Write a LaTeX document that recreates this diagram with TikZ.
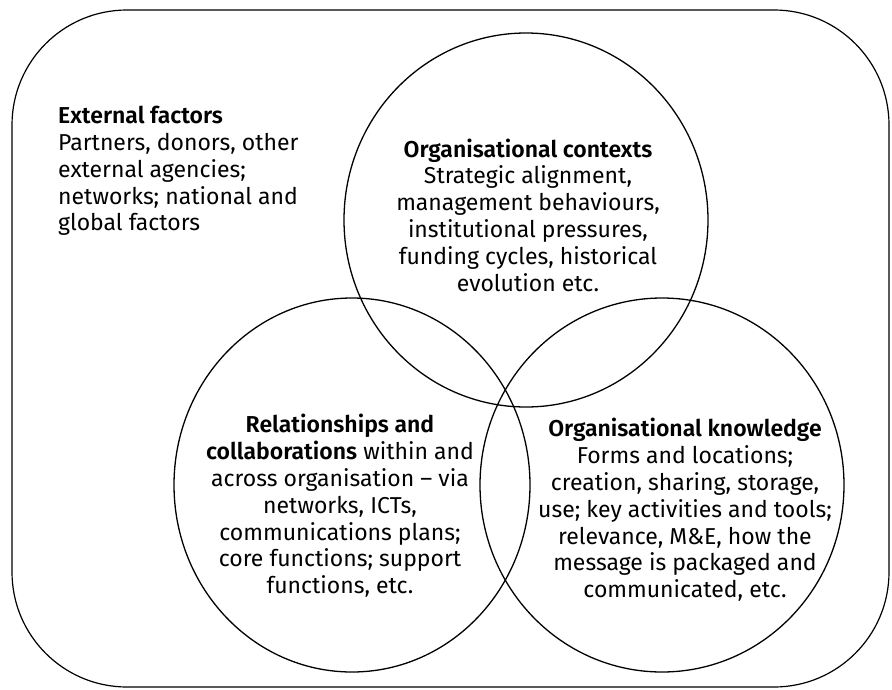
\documentclass[tikz,border=0pt]{standalone}
\usepackage{fontspec}
\setmainfont{Fira Sans}[BoldFont={Fira Sans SemiBold}]
\usetikzlibrary{positioning}

\begin{document}
\begin{tikzpicture}[x=1pt, y=-1pt, line join=round, line cap=round,
    font=\fontsize{23}{26.8}\selectfont,
    ring/.style={line width=1.3pt},
    blurb/.style={align=center, inner sep=0pt}]
    \useasboundingbox (0,0) rectangle (892,689);

    % outer frame
    \draw[line width=1.2pt, rounded corners=115pt] (12,10) rectangle (889,687);

    \coordinate (ctx) at (526,220);
    \coordinate (rel) at (352,485);
    \coordinate (know) at (662,485);

    \draw[ring] (ctx) ellipse [x radius=182pt, y radius=187pt];
    \draw[ring] (rel) ellipse [x radius=178pt, y radius=187pt];
    \draw[ring] (know) ellipse [x radius=182pt, y radius=187pt];

    \node[anchor=west, align=left, inner sep=0pt] (ext) at (58,171)
        {\textbf{External factors}\\Partners, donors, other\\external agencies;\\networks; national and\\global factors};

    \node[blurb] (ctxtext) at (528,215)
        {\textbf{Organisational contexts}\\Strategic alignment,\\management behaviours,\\institutional pressures,\\funding cycles, historical\\evolution etc.};

    \node[blurb] (reltext) at (340,506)
        {\textbf{Relationships and}\\\textbf{collaborations} within and\\across organisation -- via\\networks, ICTs,\\communications plans;\\core functions; support\\functions, etc.};

    \node[blurb] (knowtext) at (685,510)
        {\textbf{Organisational knowledge}\\Forms and locations;\\creation, sharing, storage,\\use; key activities and tools;\\relevance, M\&E, how the\\message is packaged and\\communicated, etc.};
\end{tikzpicture}
\end{document}
